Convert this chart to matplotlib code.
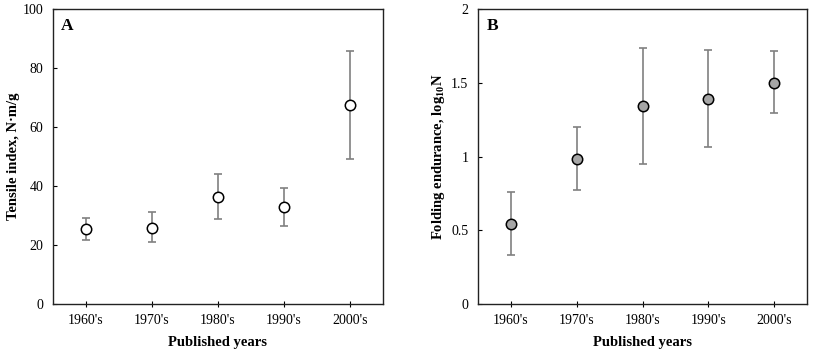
import matplotlib
matplotlib.use("Agg")
import matplotlib.pyplot as plt

plt.rcParams['font.family'] = ['Liberation Serif', 'DejaVu Serif']
plt.rcParams['mathtext.fontset'] = 'custom'
plt.rcParams['mathtext.rm'] = 'Liberation Serif'
plt.rcParams['mathtext.bf'] = 'Liberation Serif:bold'

decades = ["1960's", "1970's", "1980's", "1990's", "2000's"]

# Panel A: tensile index (mean, upper and lower error bar ends)
tensile_mean = [25.4, 25.8, 36.2, 32.8, 67.6]
tensile_high = [29.1, 31.3, 44.2, 39.2, 85.9]
tensile_low = [21.6, 20.9, 28.8, 26.6, 49.2]

# Panel B: folding endurance
folding_mean = [0.543, 0.981, 1.339, 1.393, 1.499]
folding_high = [0.762, 1.202, 1.734, 1.725, 1.714]
folding_low = [0.331, 0.773, 0.952, 1.067, 1.292]

fig = plt.figure(figsize=(8.16, 3.53), dpi=100)
axA = fig.add_axes([53 / 816, 1 - 304 / 353, 330 / 816, 295 / 353])
axB = fig.add_axes([478 / 816, 1 - 304 / 353, 329 / 816, 295 / 353])

x = list(range(1, len(decades) + 1))


def draw(ax, mean, high, low, face, ylim, yticks, yticklabels, ylabel, letter, pad):
    err = [[m - l for m, l in zip(mean, low)], [h - m for m, h in zip(mean, high)]]
    ax.errorbar(x, mean, yerr=err, fmt='none', ecolor='#808080', elinewidth=1.2,
                capsize=3, capthick=1.2, zorder=2)
    ax.plot(x, mean, 'o', ms=7.5, mfc=face, mec='black', mew=1.1, zorder=3)
    ax.set_xlim(0.5, 5.5)
    ax.set_ylim(*ylim)
    ax.set_xticks(x)
    ax.set_xticklabels(decades, fontsize=10)
    ax.set_yticks(yticks)
    ax.set_yticklabels(yticklabels, fontsize=10)
    ax.tick_params(axis='x', direction='inout', length=4, width=0.8, pad=5)
    ax.tick_params(axis='y', direction='in', length=3, width=0.8, pad=7)
    for s in ax.spines.values():
        s.set_linewidth(1.0)
        s.set_color('#222222')
    ax.set_xlabel('Published years', fontsize=10.5, fontweight='bold', labelpad=7)
    ax.set_ylabel(ylabel, fontsize=10.5, fontweight='bold', labelpad=pad)
    ax.text(0.025, 0.97, letter, transform=ax.transAxes, fontsize=12.5,
            fontweight='bold', va='top', ha='left')


draw(axA, tensile_mean, tensile_high, tensile_low, 'white', (0, 100),
     [0, 20, 40, 60, 80, 100], ['0', '20', '40', '60', '80', '100'],
     'Tensile index, N·m/g', 'A', 1.5)
draw(axB, folding_mean, folding_high, folding_low, '#a6a6a6', (0, 2),
     [0, 0.5, 1, 1.5, 2], ['0', '0.5', '1', '1.5', '2'],
     r'Folding endurance, log$_{\mathbf{10}}$N', 'B', 3)

fig.savefig('out.png', dpi=100)
